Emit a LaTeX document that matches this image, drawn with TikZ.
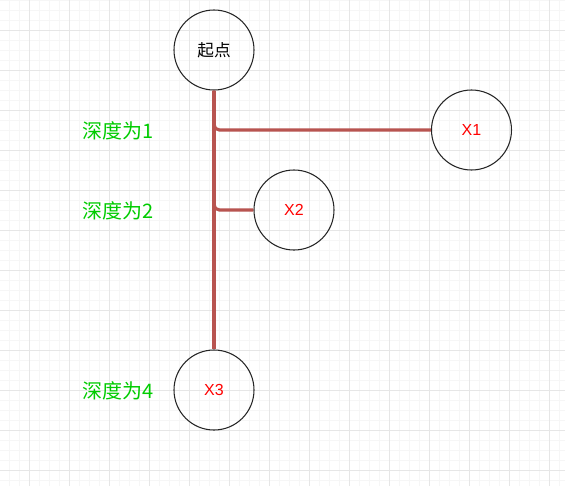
\documentclass[tikz,border=0pt]{standalone}
\usepackage{fontspec}
\setmainfont{Liberation Sans}
\newfontfamily\cjk{Noto Sans CJK SC}
\definecolor{edgered}{HTML}{B85450}
\definecolor{depthgreen}{HTML}{00CC00}
\definecolor{minorgrid}{HTML}{F6F6F6}
\definecolor{majorgrid}{HTML}{E6E6E6}
\begin{document}
\begin{tikzpicture}[x=0.75pt,y=-0.75pt,
	vertex/.style={circle,draw=black!85,line width=0.8pt,minimum size=60pt,inner sep=0pt,font=\fontsize{12}{14}\selectfont},
	edge/.style={draw=edgered,line width=2.4pt,rounded corners=4pt},
	depth/.style={text=depthgreen,font=\cjk\fontsize{15}{17}\selectfont}]
		\useasboundingbox (0,0) rectangle (565,486);
		\fill[white] (0,0) rectangle (565,486);
		\foreach \x in {-1,9,...,565} \draw[minorgrid,line width=0.75pt] (\x,0) -- (\x,486);
		\foreach \y in {0,10,...,486} \draw[minorgrid,line width=0.75pt] (0,\y) -- (565,\y);
		\foreach \x in {29,69,...,565} \draw[majorgrid,line width=0.75pt] (\x,0) -- (\x,486);
		\foreach \y in {30,70,...,486} \draw[majorgrid,line width=0.75pt] (0,\y) -- (565,\y);
		\node [vertex] (s) at (214,50) {\cjk\fontsize{12.5}{14}\selectfont 起点};
		\node [vertex,text=red] (x1) at (471.5,130) {X1};
		\node [vertex,text=red] (x2) at (294,210) {X2};
		\node [vertex,text=red] (x3) at (214,390) {X3};
		\draw [edge] (s.south) |- (x1.west);
		\draw [edge] (s.south) |- (x2.west);
		\draw [edge] (s.south) -- (x3.north);
		\node [depth] (d1) at (118,131) {深度为1};
		\node [depth] (d2) at (118,211) {深度为2};
		\node [depth] (d4) at (118,391) {深度为4};
	\end{tikzpicture}
\end{document}
